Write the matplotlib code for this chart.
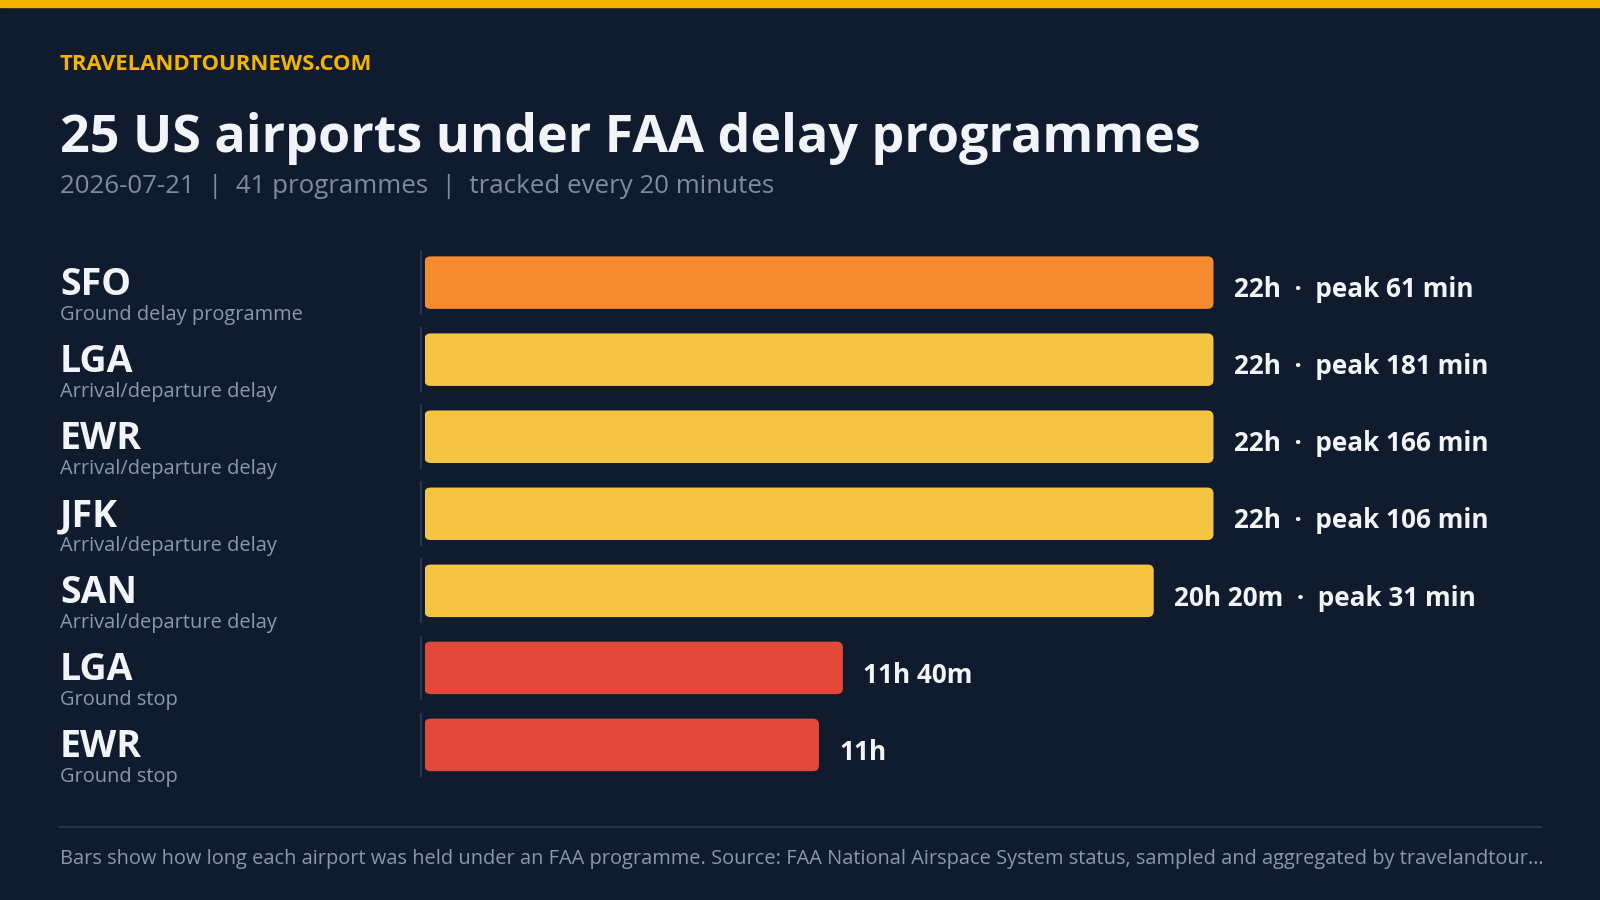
import matplotlib
matplotlib.use("Agg")
import matplotlib.pyplot as plt
from matplotlib.patches import FancyBboxPatch, Rectangle
from matplotlib.transforms import blended_transform_factory

plt.rcParams['font.family'] = ['Open Sans', 'DejaVu Sans']

# data
codes = ["SFO", "LGA", "EWR", "JFK", "SAN", "LGA", "EWR"]
programmes = ["Ground delay programme", "Arrival/departure delay", "Arrival/departure delay",
              "Arrival/departure delay", "Arrival/departure delay", "Ground stop", "Ground stop"]
hours = [22, 22, 22, 22, 20 + 20 / 60, 11 + 40 / 60, 11]
duration_labels = ["22h", "22h", "22h", "22h", "20h 20m", "11h 40m", "11h"]
peak_minutes = [61, 181, 166, 106, 31, None, None]
kinds = ["gdp", "delay", "delay", "delay", "delay", "stop", "stop"]

BG = "#111b2e"
WHITE = "#f1f5f9"
GREY = "#8a97ad"
colors = {"gdp": "#f58a2e", "delay": "#f5c443", "stop": "#e3493b"}

W, H = 1600, 900
fig = plt.figure(figsize=(16, 9), dpi=100, facecolor=BG)

# top stripe
fig.patches.append(Rectangle((0, 1 - 7 / H), 1, 7 / H, transform=fig.transFigure,
                             color="#f5b400", zorder=0))

fig.text(60 / W, 1 - 70 / H, "TRAVELANDTOURNEWS.COM", color="#f5b400",
         fontsize=15.9, fontweight="bold", va="baseline")
fig.text(60 / W, 1 - 151.7 / H, "25 US airports under FAA delay programmes", color=WHITE,
         fontsize=37.45, fontweight="bold", va="baseline")
fig.text(60 / W, 1 - 192.7 / H, "2026-07-21  |  41 programmes  |  tracked every 20 minutes",
         color="#7d8ba3", fontsize=18.6, va="baseline")

# bar area
px_per_hour = 789 / 22
row_px = 77.05
left_px, right_px = 424.5, 1560
top_px = 244.1
n = len(hours)
ax = fig.add_axes([left_px / W, 1 - (top_px + n * row_px) / H,
                   (right_px - left_px) / W, n * row_px / H])
ax.set_facecolor(BG)
ax.set_xlim(0, (right_px - left_px) / px_per_hour)
ax.set_ylim(n - 0.5, -0.5)
ax.axis("off")

bar_h = 52.5 / row_px
aspect = px_per_hour / row_px
rad = 6 / px_per_hour
bars = ax.barh(range(n), hours, height=bar_h, color=[colors[k] for k in kinds])
for b in bars:
    x, y = b.get_x(), b.get_y()
    w, h = b.get_width(), b.get_height()
    b.set_visible(False)
    ax.add_patch(FancyBboxPatch((x, y), w, h,
                                boxstyle=f"round,pad=0,rounding_size={rad}",
                                mutation_aspect=aspect, fc=b.get_facecolor(),
                                ec="none", zorder=3))

# thin row separators left of the bars
ax.vlines([-4 / px_per_hour] * n, [i - 0.42 for i in range(n)],
          [i + 0.42 for i in range(n)], color="#28364e", lw=1.5, clip_on=False)

tr = blended_transform_factory(fig.transFigure, ax.transData)
for i in range(n):
    ax.text(60 / W, i + 12.4 / row_px, codes[i], transform=tr, color=WHITE,
            fontsize=27, fontweight="bold", va="baseline")
    ax.text(60 / W, i + 37.4 / row_px, programmes[i], transform=tr, color=GREY,
            fontsize=14.4, va="baseline")
    lab = duration_labels[i]
    if peak_minutes[i] is not None:
        lab += f"  \u00b7  peak {peak_minutes[i]} min"
    ax.text(hours[i] + 20 / px_per_hour, i + 14.7 / row_px, lab, color=WHITE,
            fontsize=18.8, fontweight="bold", va="baseline", clip_on=False)

# footer
fig.add_artist(plt.Line2D([60 / W, 1541 / W], [1 - 826.5 / H] * 2, color="#26344b",
                          lw=1.5, transform=fig.transFigure))
fig.text(60 / W, 1 - 864.3 / H,
         "Bars show how long each airport was held under an FAA programme. Source: FAA National "
         "Airspace System status, sampled and aggregated by travelandtour\u2026",
         color=GREY, fontsize=14.4, va="baseline")

fig.savefig("out.png", dpi=100, facecolor=BG)
